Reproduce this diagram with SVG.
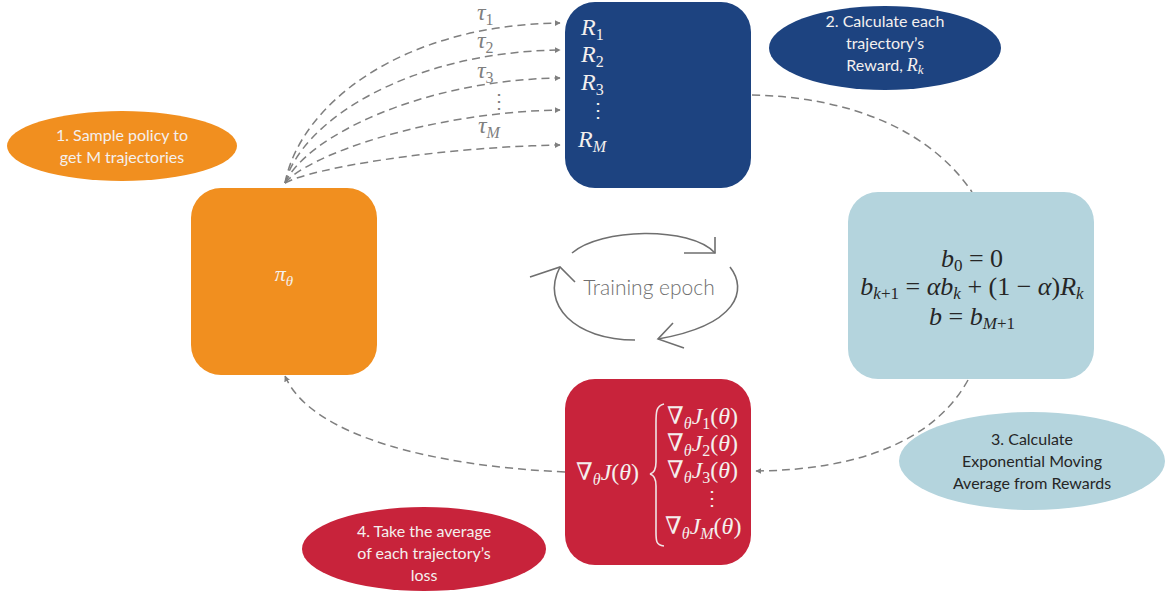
<svg xmlns="http://www.w3.org/2000/svg" width="1169" height="596" viewBox="0 0 1169 596">
  <style>
    .lbl { font-family: Lato, "Open Sans", sans-serif; font-size: 16px; text-anchor: middle; }
    .light { fill: #f4f0ee; }
    .dark { fill: #262626; }
    .math { font-family: "Liberation Serif", "DejaVu Serif", serif; }
    .it { font-style: italic; }
    .conn { fill: none; stroke: #7f7f7f; stroke-width: 1.5; stroke-dasharray: 8 5; }
    .cyc { fill: none; stroke: #6f6f6f; stroke-width: 1.6; }
  </style>
  <defs>
    <marker id="arrow" viewBox="0 0 10 10" refX="9" refY="5" markerWidth="6" markerHeight="6" orient="auto" markerUnits="userSpaceOnUse">
      <path d="M0,0 L10,5 L0,10 z" fill="#7f7f7f"/>
    </marker>
  </defs>
  <rect width="1169" height="596" fill="#ffffff"/>

  <!-- connectors -->
  <g id="connectors">
    <path class="conn" marker-end="url(#arrow)" d="M285,183 C300,105 400,25 560,23"/>
    <path class="conn" marker-end="url(#arrow)" d="M285,183 C302,120 410,52 560,50"/>
    <path class="conn" marker-end="url(#arrow)" d="M285,183 C305,138 420,80 560,78"/>
    <path class="conn" marker-end="url(#arrow)" d="M285,183 C308,155 430,112 560,110"/>
    <path class="conn" marker-end="url(#arrow)" d="M285,183 C312,168 440,147 560,145"/>
    <path class="conn" d="M752,95 C850,97 930,130 972,192"/>
    <path class="conn" marker-end="url(#arrow)" d="M968,380 C935,440 860,470 756,471"/>
    <path class="conn" marker-end="url(#arrow)" d="M565,472 C430,466 310,435 285,376"/>
  </g>

  <!-- trajectory labels -->
  <g id="traj-labels" class="math it" fill="#7f7f7f" font-size="24">
    <text x="477" y="20">τ<tspan font-size="16" dy="5" font-style="normal">1</tspan></text>
    <text x="477" y="48">τ<tspan font-size="16" dy="5" font-style="normal">2</tspan></text>
    <text x="477" y="78">τ<tspan font-size="16" dy="5" font-style="normal">3</tspan></text>
    <text x="489" y="108" font-style="normal" font-size="20">⋮</text>
    <text x="478" y="133">τ<tspan font-size="16" dy="5">M</tspan></text>
  </g>

  <!-- policy -->
  <g id="policy">
    <rect x="191" y="188" width="186" height="187" rx="30" fill="#f18f1f"/>
    <text x="284" y="281" class="math it light" font-size="22" text-anchor="middle">π<tspan font-size="15" dy="5">θ</tspan></text>
  </g>

  <!-- rewards -->
  <g id="rewards">
    <rect x="565" y="2" width="186" height="186" rx="30" fill="#1d4380"/>
    <g class="math it light" font-size="24">
      <text x="581" y="35">R<tspan font-size="16" dy="5" font-style="normal">1</tspan></text>
      <text x="581" y="62">R<tspan font-size="16" dy="5" font-style="normal">2</tspan></text>
      <text x="581" y="90">R<tspan font-size="16" dy="5" font-style="normal">3</tspan></text>
      <text x="588" y="117" font-style="normal" font-size="20">⋮</text>
      <text x="578" y="147">R<tspan font-size="16" dy="5">M</tspan></text>
    </g>
  </g>

  <!-- baseline -->
  <g id="baseline">
    <rect x="848" y="192" width="246" height="187" rx="30" fill="#b4d4dd"/>
    <g class="math dark" font-size="26" text-anchor="middle">
      <text x="972" y="267"><tspan font-style="italic">b</tspan><tspan font-size="17" dy="4">0</tspan><tspan dy="-4"> = 0</tspan></text>
      <text x="972" y="295"><tspan font-style="italic">b</tspan><tspan font-size="17" dy="4" font-style="italic">k</tspan><tspan font-size="17">+1</tspan><tspan dy="-4"> = </tspan><tspan font-style="italic">αb</tspan><tspan font-size="17" dy="4" font-style="italic">k</tspan><tspan dy="-4"> + (1 − </tspan><tspan font-style="italic">α</tspan><tspan>)</tspan><tspan font-style="italic">R</tspan><tspan font-size="17" dy="4" font-style="italic">k</tspan></text>
      <text x="972" y="325"><tspan font-style="italic">b</tspan><tspan> = </tspan><tspan font-style="italic">b</tspan><tspan font-size="17" dy="4" font-style="italic">M</tspan><tspan font-size="17">+1</tspan></text>
    </g>
  </g>

  <!-- loss -->
  <g id="loss">
    <rect x="565" y="379" width="186" height="186" rx="30" fill="#c8233b"/>
    <g class="math light" font-size="24">
      <text x="576" y="480">∇<tspan font-size="16" dy="5" font-style="italic">θ</tspan><tspan dy="-5" font-style="italic">J</tspan>(<tspan font-style="italic">θ</tspan>)</text>
      <text x="667" y="424">∇<tspan font-size="16" dy="5" font-style="italic">θ</tspan><tspan dy="-5" font-style="italic">J</tspan><tspan font-size="16" dy="5">1</tspan><tspan dy="-5">(</tspan><tspan font-style="italic">θ</tspan>)</text>
      <text x="667" y="451">∇<tspan font-size="16" dy="5" font-style="italic">θ</tspan><tspan dy="-5" font-style="italic">J</tspan><tspan font-size="16" dy="5">2</tspan><tspan dy="-5">(</tspan><tspan font-style="italic">θ</tspan>)</text>
      <text x="667" y="478">∇<tspan font-size="16" dy="5" font-style="italic">θ</tspan><tspan dy="-5" font-style="italic">J</tspan><tspan font-size="16" dy="5">3</tspan><tspan dy="-5">(</tspan><tspan font-style="italic">θ</tspan>)</text>
      <text x="702" y="505" font-size="20">⋮</text>
      <text x="665" y="534">∇<tspan font-size="16" dy="5" font-style="italic">θ</tspan><tspan dy="-5" font-style="italic">J</tspan><tspan font-size="16" dy="5" font-style="italic">M</tspan><tspan dy="-5">(</tspan><tspan font-style="italic">θ</tspan>)</text>
    </g>
    <path d="M664,404 C655,406 656,414 656,430 L656,462 C656,470 654,473 650,474 C654,475 656,478 656,486 L656,526 C656,540 655,545 664,546" fill="none" stroke="#f0e4e6" stroke-width="1.6"/>
  </g>

  <!-- training cycle -->
  <g id="training-epoch">
    <path class="cyc" d="M572,253 C600,228 690,226 715,253"/>
    <path class="cyc" d="M684,253 L715,253 L715,237"/>
    <path class="cyc" d="M730,267 C748,290 738,325 658,339"/>
    <path class="cyc" d="M673,323 L658,339 L684,348"/>
    <path class="cyc" d="M635,340 C575,340 540,305 560,267"/>
    <path class="cyc" d="M530,277 L560,267 L575,282"/>
    <text x="649" y="295" font-family="Lato, 'Open Sans', sans-serif" font-weight="300" font-size="21" fill="#6f6f6f" text-anchor="middle">Training epoch</text>
  </g>

  <!-- step notes -->
  <g id="step1">
    <ellipse cx="122" cy="146" rx="115" ry="35" fill="#f18f1f"/>
    <text class="lbl light" x="122" y="141">1. Sample policy to</text>
    <text class="lbl light" x="122" y="163">get M trajectories</text>
  </g>
  <g id="step2">
    <ellipse cx="885" cy="48" rx="116" ry="42" fill="#1d4380"/>
    <text class="lbl light" x="885" y="27">2. Calculate each</text>
    <text class="lbl light" x="885" y="49">trajectory’s</text>
    <text class="lbl light" x="885" y="71">Reward, <tspan class="math it" font-size="18">R</tspan><tspan class="math it" font-size="13" dy="3">k</tspan></text>
  </g>
  <g id="step3">
    <ellipse cx="1032" cy="461" rx="133" ry="49" fill="#b4d4dd"/>
    <text class="lbl dark" x="1032" y="445">3. Calculate</text>
    <text class="lbl dark" x="1032" y="467">Exponential Moving</text>
    <text class="lbl dark" x="1032" y="489">Average from Rewards</text>
  </g>
  <g id="step4">
    <ellipse cx="424" cy="549" rx="122" ry="42" fill="#c8233b"/>
    <text class="lbl light" x="424" y="537">4. Take the average</text>
    <text class="lbl light" x="424" y="559">of each trajectory’s</text>
    <text class="lbl light" x="424" y="581">loss</text>
  </g>
</svg>
